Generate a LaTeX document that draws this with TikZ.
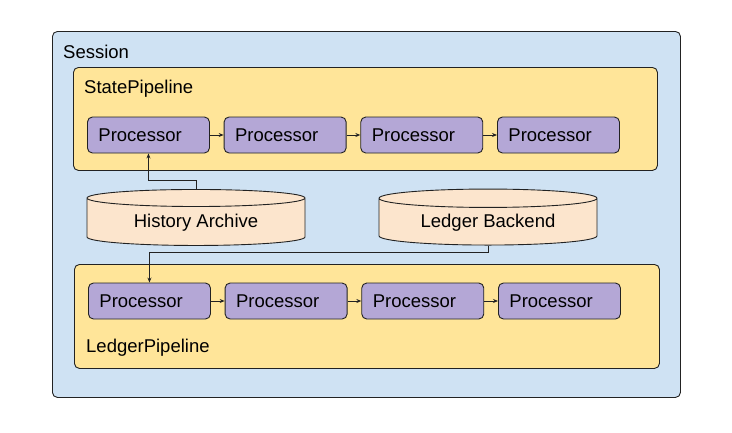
\documentclass[tikz,border=0pt]{standalone}
\usepackage{fontspec}
\setmainfont{Liberation Sans}
\usetikzlibrary{arrows.meta,shapes.geometric}

\definecolor{sessionfill}{HTML}{CFE2F3}
\definecolor{pipefill}{HTML}{FFE599}
\definecolor{procfill}{HTML}{B4A7D6}
\definecolor{storefill}{HTML}{FCE5CD}
\definecolor{edge}{HTML}{222222}

\tikzset{
    box/.style={draw=edge, line width=0.9pt, rounded corners=5pt},
    sessionbox/.style={box, fill=sessionfill, anchor=north west, inner sep=0pt},
    pipebox/.style={box, fill=pipefill, anchor=north west, inner sep=0pt},
    procbox/.style={box, fill=procfill, anchor=west, minimum width=122pt, minimum height=36pt,
        text width=100pt, inner xsep=11pt, align=left},
    storebox/.style={draw=edge, line width=0.9pt, fill=storefill, cylinder, shape border rotate=90,
        minimum width=218pt, minimum height=56pt, aspect=0.13},
    label/.style={anchor=west, inner sep=0pt},
    flow/.style={draw=edge, line width=0.9pt, -{Stealth[length=5pt,width=4pt]}}
}

\begin{document}
\begin{tikzpicture}[x=1pt, y=-1pt, font=\fontsize{18.5}{22}\selectfont]
\useasboundingbox (0,0) rectangle (732,432);

% Outer session
\node[sessionbox, minimum width=628pt, minimum height=366pt] (session) at (52,31) {};
\node[label] (sessionlbl) at (63,52) {Session};

% Pipelines
\node[pipebox, minimum width=584pt, minimum height=103pt] (state) at (73,67) {};
\node[label] (statelbl) at (84,89) {StatePipeline};
\node[pipebox, minimum width=585pt, minimum height=104pt] (ledger) at (74,264) {};
\node[label] (ledgerlbl) at (86,348) {LedgerPipeline};

% Processors in both pipelines
\foreach \i in {1,...,4} {
    \pgfmathsetmacro{\x}{87 + (\i-1)*136.67}
    \node[procbox] (s\i) at (\x,135) {Processor};
    \node[procbox] (l\i) at (\x+1,301) {Processor};
}
\foreach \i/\j in {1/2,2/3,3/4} {
    \draw[flow] (s\i) -- (s\j);
    \draw[flow] (l\i) -- (l\j);
}

% Stores
\node[storebox] (archive) at (196,223) {History Archive};
\node[storebox] (backend) at (488,223) {Ledger Backend};

% Feeds
\draw[flow] (archive.north) -- ++(0,-9) -| (s1.south);
\draw[flow] (backend.south) -- ++(0,7) -| (l1.north);

\end{tikzpicture}
\end{document}
